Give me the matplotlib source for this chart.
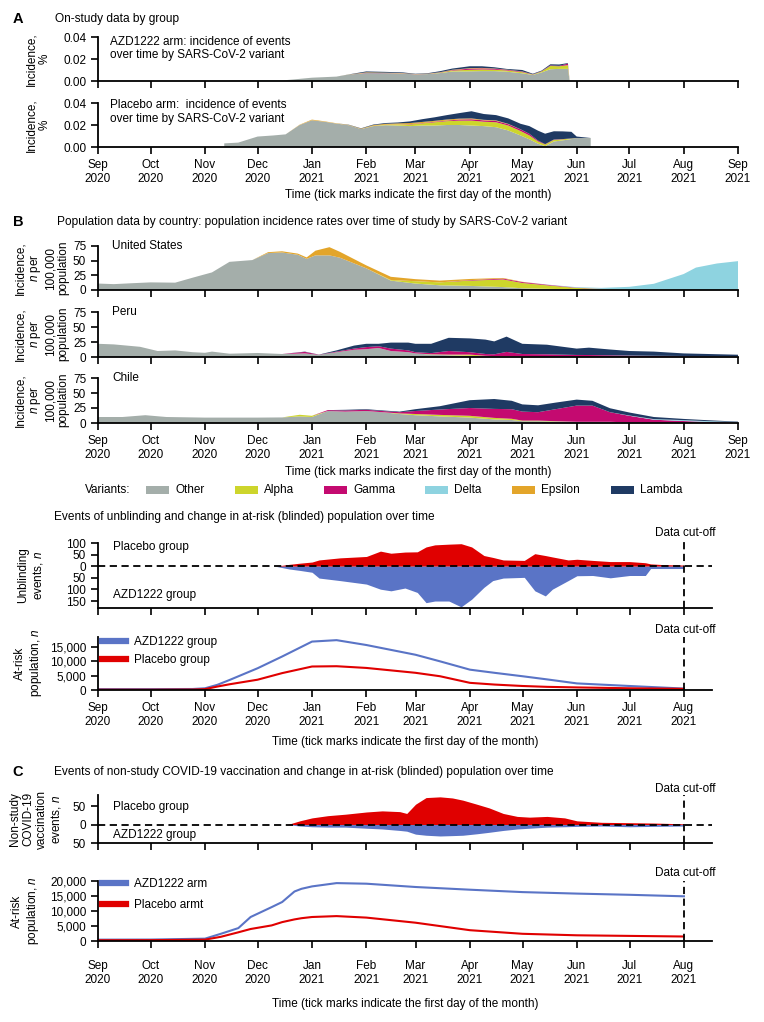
import matplotlib
matplotlib.use("Agg")
import matplotlib.pyplot as plt
import matplotlib.dates as mdates
from matplotlib.patches import Rectangle
from matplotlib.lines import Line2D
from matplotlib.ticker import FuncFormatter
import pandas as pd

plt.rcParams['font.family'] = ['Liberation Sans', 'DejaVu Sans']
plt.rcParams['mathtext.fontset'] = 'custom'
plt.rcParams['mathtext.it'] = 'Liberation Sans:italic'
plt.rcParams['mathtext.rm'] = 'Liberation Sans'

# ---------------- data ----------------
variant_names = ["Other", "Alpha", "Gamma", "Delta", "Epsilon", "Lambda"]
variant_colors = ["#a4aeaa", "#cdd52c", "#c40a70", "#8ed3e0", "#e3a52a", "#1f3a63"]

# A: on-study incidence (%), AZD1222 arm
azd_dates = ["2020-11-15", "2020-12-01", "2020-12-15", "2020-12-22", "2021-01-01", "2021-01-15",
             "2021-01-22", "2021-02-01", "2021-02-12", "2021-02-22", "2021-03-01", "2021-03-08",
             "2021-03-15", "2021-03-22", "2021-04-01", "2021-04-08", "2021-04-15", "2021-04-22",
             "2021-05-01", "2021-05-07", "2021-05-12", "2021-05-17", "2021-05-22", "2021-05-27",
             "2021-05-28"]
azd_other = [0.0003, 0.0005, 0.0005, 0.0015, 0.003, 0.004, 0.0058, 0.0072, 0.0071, 0.0068, 0.006,
             0.0063, 0.0072, 0.0086, 0.0088, 0.009, 0.009, 0.0085, 0.007, 0.0055, 0.0078, 0.0107,
             0.011, 0.011, 0]
azd_alpha = [0, 0, 0, 0, 0, 0, 0, 0, 0, 0, 0, 0.0001, 0.0004, 0.0009, 0.0014, 0.0015, 0.0013,
             0.0011, 0.001, 0.0004, 0.0009, 0.003, 0.0024, 0.0034, 0]
azd_gamma = [0, 0, 0, 0, 0, 0, 0, 0.0002, 0.0001, 0.0001, 0.0001, 0.0001, 0.0002, 0.0004, 0.001,
             0.001, 0.0008, 0.0006, 0.0005, 0.0002, 0.0003, 0.0005, 0.0004, 0.0014, 0]
azd_eps = [0, 0, 0, 0, 0, 0, 0.0001, 0.0005, 0.0004, 0.0003, 0.0002, 0.0002, 0.0002, 0.0003,
           0.0005, 0.0004, 0.0003, 0.0002, 0.0002, 0, 0, 0, 0, 0, 0]
azd_lambda = [0, 0, 0, 0, 0, 0, 0.0001, 0.0008, 0.0007, 0.0006, 0.0003, 0.0004, 0.0009, 0.0011,
              0.0017, 0.0015, 0.0011, 0.0006, 0.0013, 0.0005, 0.0005, 0.001, 0.0012, 0.0005, 0]

# A: placebo arm
pbo_dates = ["2020-11-12", "2020-11-12", "2020-11-20", "2020-12-01", "2020-12-10", "2020-12-17",
             "2020-12-25", "2021-01-01", "2021-01-08", "2021-01-15", "2021-01-22", "2021-01-29",
             "2021-02-05", "2021-02-12", "2021-02-19", "2021-02-26", "2021-03-05", "2021-03-12",
             "2021-03-19", "2021-03-26", "2021-04-02", "2021-04-09", "2021-04-16", "2021-04-23",
             "2021-04-30", "2021-05-05", "2021-05-10", "2021-05-14", "2021-05-19", "2021-05-24",
             "2021-05-29", "2021-06-01", "2021-06-09", "2021-06-09"]
pbo_other = [0, 0.0033, 0.004, 0.0095, 0.0105, 0.0115, 0.020, 0.0243, 0.023, 0.0213, 0.0198,
             0.0163, 0.019, 0.0198, 0.0195, 0.019, 0.0195, 0.0195, 0.020, 0.020, 0.0195, 0.019,
             0.018, 0.015, 0.0105, 0.007, 0.003, 0.0008, 0.005, 0.006, 0.0072, 0.0082, 0.0082, 0]
pbo_alpha = [0, 0, 0, 0, 0, 0, 0, 0, 0, 0, 0, 0, 0.0002, 0.0005, 0.001, 0.0015, 0.002, 0.003,
             0.0035, 0.004, 0.0045, 0.004, 0.0045, 0.0045, 0.004, 0.0035, 0.002, 0.0015, 0.0015,
             0.001, 0.0005, 0, 0, 0]
pbo_gamma = [0, 0, 0, 0, 0, 0, 0, 0, 0, 0, 0, 0, 0, 0, 0, 0.0003, 0.0003, 0.0005, 0.0005, 0.001,
             0.0012, 0.0012, 0.0012, 0.0012, 0.0015, 0.0015, 0.0008, 0.0003, 0.0003, 0.0002, 0.0001,
             0, 0, 0]
pbo_eps = [0, 0, 0, 0, 0, 0, 0.0003, 0.0006, 0.0004, 0.0003, 0.0003, 0.0004, 0.0007, 0.0008, 0.001,
           0.001, 0.001, 0.0008, 0.001, 0.0008, 0.0008, 0.0005, 0.0005, 0.0003, 0.0001, 0, 0, 0, 0,
           0, 0, 0, 0, 0]
pbo_lambda = [0, 0, 0, 0, 0, 0, 0, 0, 0, 0, 0.0002, 0.0003, 0.0005, 0.0007, 0.0008, 0.0015, 0.0025,
              0.0032, 0.004, 0.005, 0.0065, 0.0053, 0.0048, 0.005, 0.005, 0.007, 0.009, 0.0095,
              0.0075, 0.007, 0.006, 0.0013, 0, 0]

# B: population incidence, n per 100,000
us_dates = ["2020-09-01", "2020-09-10", "2020-09-20", "2020-10-01", "2020-10-15", "2020-10-25",
            "2020-11-05", "2020-11-15", "2020-11-28", "2020-12-07", "2020-12-15", "2020-12-24",
            "2020-12-29", "2021-01-03", "2021-01-11", "2021-01-17", "2021-02-01", "2021-02-15",
            "2021-03-01", "2021-03-15", "2021-04-01", "2021-04-20", "2021-05-01", "2021-05-15",
            "2021-06-01", "2021-06-15", "2021-07-01", "2021-07-15", "2021-08-01", "2021-08-08",
            "2021-08-20", "2021-09-01"]
us_other = [11, 10, 11.5, 13, 12.5, 21, 30, 48, 51, 63, 64, 60, 53, 59, 59, 55, 37, 16, 11, 8, 7,
            5, 3, 2, 1, 0.8, 0.5, 0.3, 0.2, 0.2, 0.2, 0.2]
us_alpha = [0, 0, 0, 0, 0, 0, 0, 0, 0, 0, 0, 0, 0, 0, 0, 0, 0, 1, 4, 5, 9, 13, 9, 6, 2.5, 1, 0.3,
            0.2, 0, 0, 0, 0]
us_gamma = [0, 0, 0, 0, 0, 0, 0, 0, 0, 0, 0, 0, 0, 0, 0, 0, 0, 0, 0, 0, 0.8, 1.5, 1.5, 1, 0.5,
            0.3, 0.1, 0.1, 0, 0, 0, 0]
us_delta = [0, 0, 0, 0, 0, 0, 0, 0, 0, 0, 0, 0, 0, 0, 0, 0, 0, 0, 0, 0, 0, 0, 0, 0.3, 0.8, 1.5,
            4.5, 10, 27, 38, 45, 49]
us_eps = [0, 0, 0, 0, 0, 0, 0, 0, 0, 1.5, 2, 2, 2.5, 8, 14, 10, 5, 5.5, 3.5, 3, 2, 1, 0.5, 0, 0,
          0, 0, 0, 0, 0, 0, 0]

pe_dates = ["2020-09-01", "2020-09-10", "2020-09-25", "2020-10-05", "2020-10-15", "2020-10-25",
            "2020-11-01", "2020-11-05", "2020-11-15", "2020-12-01", "2020-12-15", "2020-12-28",
            "2021-01-05", "2021-01-15", "2021-01-25", "2021-02-01", "2021-02-08", "2021-02-15",
            "2021-02-25", "2021-03-01", "2021-03-10", "2021-03-20", "2021-04-01", "2021-04-10",
            "2021-04-15", "2021-04-22", "2021-05-01", "2021-05-15", "2021-06-01", "2021-06-08",
            "2021-06-20", "2021-07-01", "2021-07-15", "2021-08-01", "2021-08-15", "2021-09-01"]
pe_other = [22, 21, 17, 10, 11, 8, 7, 9, 5.5, 6.7, 5, 6, 3.5, 8, 12, 13, 15, 10, 8, 6, 4, 3, 2, 1,
            1, 1, 0.8, 0.5, 0.4, 0.3, 0.3, 0.2, 0.2, 0.2, 0.1, 0.1]
pe_alpha = [0, 0, 0, 0, 0, 0, 0, 0, 0, 0, 0, 0, 0, 0, 0, 0, 0, 0, 0, 0, 0.5, 1, 2, 1, 0.5, 0.5,
            0.2, 0, 0, 0, 0, 0, 0, 0, 0, 0]
pe_gamma = [0, 0, 0, 0, 0, 0, 0, 0, 0, 0, 0, 2.5, 0.3, 1, 2, 3.5, 3, 4, 3, 2, 2, 6, 4, 3, 3, 7, 4,
            4, 3, 3, 2.5, 2, 1.5, 1, 0.7, 0.4]
pe_delta = [0, 0, 0, 0, 0, 0, 0, 0, 0, 0, 0, 0, 0, 0, 0, 0, 0, 0, 0, 0, 0, 0, 0, 0, 0, 0, 0, 0, 0,
            0, 0, 0.2, 0.3, 0.5, 0.7, 0.8]
pe_lambda = [0, 0, 0, 0, 0, 0, 0, 0, 0, 0, 0, 0.5, 0.2, 2, 5, 5.5, 4, 10, 13, 14, 15.5, 22, 23, 24,
             21.5, 25.5, 17, 16, 10.6, 12.3, 9.7, 7.6, 7, 4.3, 3.5, 2.5]

cl_dates = ["2020-09-01", "2020-09-15", "2020-09-28", "2020-10-10", "2020-11-01", "2020-12-01",
            "2020-12-15", "2020-12-25", "2021-01-01", "2021-01-10", "2021-01-20", "2021-02-01",
            "2021-02-10", "2021-02-20", "2021-03-01", "2021-03-15", "2021-04-01", "2021-04-15",
            "2021-04-25", "2021-05-01", "2021-05-10", "2021-05-20", "2021-06-01", "2021-06-10",
            "2021-06-20", "2021-07-01", "2021-07-15", "2021-08-01", "2021-08-15", "2021-09-01"]
cl_other = [10, 10, 13, 10, 9, 9, 9.3, 11, 10, 20, 19, 20, 18, 15, 13, 11, 9, 6, 5, 3, 3, 2.5, 2,
            2, 2, 1, 0.5, 0.3, 0.2, 0.1]
cl_alpha = [0, 0, 0, 0, 0, 0, 0, 2.7, 2, 0, 0, 0, 0, 1, 2, 2.5, 3, 2.5, 2, 1, 1, 0.5, 0, 0, 0, 0,
            0, 0, 0, 0]
cl_gamma = [0, 0, 0, 0, 0, 0, 0, 0, 0, 1.5, 2, 2, 2, 2, 5, 9, 13, 15, 16, 15, 14, 20, 27, 27, 16,
            11, 5, 3, 1.5, 0.5]
cl_delta = [0, 0, 0, 0, 0, 0, 0, 0, 0, 0, 0, 0, 0, 0, 0, 0, 0, 0, 0, 0, 0, 0, 0, 0, 0, 0.5, 1,
            1.5, 1.4, 1]
cl_lambda = [0, 0, 0, 0, 0, 0, 0, 0, 0, 0, 1, 1, 1, 1, 3, 5.5, 13, 16.5, 14, 12, 11.5, 11, 10, 8,
             6.6, 5, 3.5, 2, 1.5, 0.7]

# unblinding events
ub_dates = ["2020-12-11", "2020-12-19", "2020-12-25", "2021-01-01", "2021-01-05", "2021-01-17",
            "2021-02-01", "2021-02-09", "2021-02-15", "2021-02-23", "2021-03-02", "2021-03-07",
            "2021-03-12", "2021-03-20", "2021-03-27", "2021-04-02", "2021-04-09", "2021-04-14",
            "2021-04-20", "2021-05-02", "2021-05-08", "2021-05-14", "2021-05-18", "2021-05-27",
            "2021-06-01", "2021-06-10", "2021-06-20", "2021-07-01", "2021-07-10", "2021-07-13",
            "2021-07-20", "2021-08-01"]
ub_pbo = [0, 8, 13, 18, 27, 36, 42, 65, 56, 61, 62, 83, 92, 95, 97, 83, 46, 38, 27, 25, 54, 46,
          40, 27, 30, 25, 20, 20, 15, 10, 7, 5]
ub_azd = [0, 12, 18, 26, 51, 62, 77, 99, 106, 94, 113, 157, 150, 150, 175, 142, 91, 62, 51, 48,
          106, 128, 99, 62, 41, 40, 50, 40, 40, 10, 10, 10]

# at-risk (blinded) population, unblinding
ar_dates = ["2020-09-01", "2020-10-01", "2020-10-25", "2020-11-01", "2020-11-08", "2020-11-15",
            "2020-12-01", "2020-12-15", "2021-01-01", "2021-01-15", "2021-02-01", "2021-03-01",
            "2021-03-15", "2021-04-01", "2021-04-15", "2021-05-01", "2021-05-15", "2021-06-01",
            "2021-07-01", "2021-08-01"]
ar_azd = [300, 300, 350, 600, 1800, 3500, 7600, 11700, 16900, 17400, 15700, 12300, 10000, 7100,
          6000, 4800, 3700, 2300, 1400, 500]
ar_pbo = [100, 100, 150, 300, 1200, 2000, 3600, 5900, 8200, 8300, 7700, 6000, 4800, 2500, 1900,
          1400, 1100, 900, 600, 400]

# C: non-study vaccination events
vx_dates = ["2020-12-18", "2020-12-25", "2021-01-01", "2021-01-10", "2021-01-20", "2021-02-01",
            "2021-02-10", "2021-02-20", "2021-02-24", "2021-03-01", "2021-03-07", "2021-03-15",
            "2021-03-22", "2021-03-28", "2021-04-05", "2021-04-12", "2021-04-20", "2021-04-28",
            "2021-05-05", "2021-05-15", "2021-05-25", "2021-06-01", "2021-06-15", "2021-07-01",
            "2021-07-15", "2021-08-01"]
vx_pbo = [0, 10, 18, 24, 28, 34, 37, 35, 30, 55, 73, 75, 72, 66, 55, 45, 30, 22, 20, 22, 18, 10,
          6, 5, 4, 2]
vx_azd = [0, 4, 6, 7, 7, 10, 12, 16, 18, 26, 29, 31, 30, 29, 25, 21, 16, 12, 10, 7, 6, 5, 4, 6,
          5, 4]

# C: at-risk population
arc_dates = ["2020-09-01", "2020-10-01", "2020-11-01", "2020-11-10", "2020-11-20", "2020-11-27",
             "2020-12-09", "2020-12-15", "2020-12-22", "2020-12-26", "2021-01-01", "2021-01-15",
             "2021-02-01", "2021-03-01", "2021-04-01", "2021-05-01", "2021-06-01", "2021-07-01",
             "2021-08-01"]
arc_azd = [450, 480, 780, 2400, 4300, 8000, 11300, 13000, 16500, 17400, 18200, 19300, 19100, 18000,
           17100, 16300, 15800, 15400, 14900]
arc_pbo = [250, 280, 450, 1400, 2900, 4000, 5200, 6300, 7200, 7600, 8000, 8300, 7800, 6100, 3600,
           2400, 1900, 1700, 1500]

RED = "#e00000"
BLUE = "#5a74c6"
cutoff = pd.Timestamp("2021-08-01")

# ---------------- layout helpers ----------------
W, H = 764, 1022
fig = plt.figure(figsize=(W / 100, H / 100), dpi=100)
TITLE_FS = 8.6


def add_ax(x0, top, x1, bot):
    return fig.add_axes([x0 / W, 1 - bot / H, (x1 - x0) / W, (bot - top) / H])


def put(x, y, s, **kw):
    kw.setdefault('va', 'center')
    kw.setdefault('fontsize', 8.5)
    fig.text(x / W, 1 - y / H, s, **kw)


def style(ax, start, end, labels=False, pad=3.5):
    for s in ['top', 'right']:
        ax.spines[s].set_visible(False)
    for s in ['left', 'bottom']:
        ax.spines[s].set_linewidth(1.3)
    ax.tick_params(direction='out', length=5, width=1.2, labelsize=8.5)
    ax.tick_params(axis='x', labelbottom=labels, pad=pad)
    ax.set_xlim(pd.Timestamp(start), pd.Timestamp(end))
    ax.xaxis.set_major_locator(mdates.MonthLocator())
    ax.xaxis.set_major_formatter(mdates.DateFormatter('%b\n%Y'))


def ylab(x, y, s):
    put(x, y, s, rotation=90, ha='center', linespacing=1.15)


def stack(ax, dates, series, names):
    cols = [variant_colors[variant_names.index(n)] for n in names]
    ax.stackplot(pd.to_datetime(dates), *series, colors=cols, linewidth=0)


T_XLAB = "Time (tick marks indicate the first day of the month)"

# ---------------- panel A ----------------
put(18, 19, "A", fontweight='bold', fontsize=10.5, ha='center')
put(55, 19, "On-study data by group", fontsize=TITLE_FS)

pct_fmt = FuncFormatter(lambda v, p: f"{v:.2f}")
a1 = add_ax(98, 37, 738, 81)
stack(a1, azd_dates, [azd_other, azd_alpha, azd_gamma, azd_eps, azd_lambda],
      ["Other", "Alpha", "Gamma", "Epsilon", "Lambda"])
a2 = add_ax(98, 103, 738, 147)
stack(a2, pbo_dates, [pbo_other, pbo_alpha, pbo_gamma, pbo_eps, pbo_lambda],
      ["Other", "Alpha", "Gamma", "Epsilon", "Lambda"])
for ax, lab in [(a1, False), (a2, True)]:
    style(ax, "2020-09-01", "2021-09-01", labels=lab)
    ax.set_ylim(0, 0.04)
    ax.set_yticks([0, 0.02, 0.04])
    ax.yaxis.set_major_formatter(pct_fmt)
put(110, 42, "AZD1222 arm: incidence of events", ha='left')
put(110, 55, "over time by SARS-CoV-2 variant", ha='left')
put(110, 105, "Placebo arm:  incidence of events", ha='left')
put(110, 119, "over time by SARS-CoV-2 variant", ha='left')
ylab(38, 59, "Incidence,\n%")
ylab(38, 125, "Incidence,\n%")
put(418, 195, T_XLAB, ha='center')

# ---------------- panel B ----------------
put(18, 222, "B", fontweight='bold', fontsize=10.5, ha='center')
put(57, 222, "Population data by country: population incidence rates over time of study by "
             "SARS-CoV-2 variant", fontsize=TITLE_FS)

b_us = add_ax(98, 246, 738, 290)
stack(b_us, us_dates, [us_other, us_alpha, us_gamma, us_delta, us_eps],
      ["Other", "Alpha", "Gamma", "Delta", "Epsilon"])
b_pe = add_ax(98, 312, 738, 357)
stack(b_pe, pe_dates, [pe_other, pe_alpha, pe_gamma, pe_delta, pe_lambda],
      ["Other", "Alpha", "Gamma", "Delta", "Lambda"])
b_cl = add_ax(98, 378, 738, 423)
stack(b_cl, cl_dates, [cl_other, cl_alpha, cl_gamma, cl_delta, cl_lambda],
      ["Other", "Alpha", "Gamma", "Delta", "Lambda"])
for ax, name, top in [(b_us, "United States", 246), (b_pe, "Peru", 312), (b_cl, "Chile", 378)]:
    style(ax, "2020-09-01", "2021-09-01", labels=(ax is b_cl))
    ax.set_ylim(0, 75)
    ax.set_yticks([0, 25, 50, 75])
    put(112, top, name, ha='left')
    ylab(42, top + 22, "Incidence,\n$n$ per\n100,000\npopulation")
put(418, 472, T_XLAB, ha='center')

# variant legend
put(85, 490, "Variants:", ha='left')
leg_x = [146, 235, 324, 425, 512, 611]
for x, name, col in zip(leg_x, variant_names, variant_colors):
    fig.add_artist(Rectangle((x / W, 1 - 494 / H), 23 / W, 8 / H, facecolor=col,
                             edgecolor='none', transform=fig.transFigure))
    put(x + 29, 490, name, ha='left')

# ---------------- unblinding ----------------
put(54, 517, "Events of unblinding and change in at-risk (blinded) population over time",
    fontsize=TITLE_FS)

u1 = add_ax(98, 543, 712, 608)
ub_t = pd.to_datetime(ub_dates)
u1.fill_between(ub_t, 0, ub_pbo, color=RED, linewidth=0)
u1.fill_between(ub_t, 0, [-v for v in ub_azd], color=BLUE, linewidth=0)
style(u1, "2020-09-01", "2021-08-17")
u1.set_ylim(-180, 100)
u1.set_yticks([-150, -100, -50, 0, 50, 100])
u1.yaxis.set_major_formatter(FuncFormatter(lambda v, p: f"{abs(v):.0f}"))
u1.axhline(0, color='black', lw=1.3, ls=(0, (4, 2.5)))
u1.axvline(cutoff, ymin=0, ymax=1.05, color='black', lw=1.3, ls=(0, (4, 2.5)), clip_on=False)
put(113, 547, "Placebo group", ha='left')
put(113, 595, "AZD1222 group", ha='left')
put(685, 533, "Data cut-off", ha='center')
ylab(31, 575, "Unblinding\nevents, $n$")

u2 = add_ax(98, 637, 712, 690)
ar_t = pd.to_datetime(ar_dates)
u2.plot(ar_t, ar_azd, color=BLUE, lw=1.5)
u2.plot(ar_t, ar_pbo, color=RED, lw=1.5)
style(u2, "2020-09-01", "2021-08-17", labels=True)
u2.set_ylim(0, 18500)
u2.set_yticks([0, 5000, 10000, 15000])
u2.yaxis.set_major_formatter(FuncFormatter(lambda v, p: f"{v:,.0f}"))
u2.axvline(cutoff, ymin=0, ymax=1.0, color='black', lw=1.3, ls=(0, (4, 2.5)), clip_on=False)
u2.legend([Line2D([], [], color=BLUE, lw=4.5), Line2D([], [], color=RED, lw=4.5)],
          ["AZD1222 group", "Placebo group"], loc='upper left',
          bbox_to_anchor=(102 / W, 1 - 636 / H), bbox_transform=fig.transFigure,
          frameon=False, fontsize=8.5, handlelength=2.0, handletextpad=0.7,
          labelspacing=0.55, borderpad=0, borderaxespad=0)
put(685, 630, "Data cut-off", ha='center')
ylab(29, 663, "At-risk\npopulation, $n$")
put(405, 742, T_XLAB, ha='center')

# ---------------- panel C ----------------
put(18, 772, "C", fontweight='bold', fontsize=10.5, ha='center')
put(54, 772, "Events of non-study COVID-19 vaccination and change in at-risk (blinded) "
             "population over time", fontsize=TITLE_FS)

c1 = add_ax(98, 795, 712, 843)
vx_t = pd.to_datetime(vx_dates)
c1.fill_between(vx_t, 0, vx_pbo, color=RED, linewidth=0)
c1.fill_between(vx_t, 0, [-v for v in vx_azd], color=BLUE, linewidth=0)
style(c1, "2020-09-01", "2021-08-17")
c1.set_ylim(-50, 80)
c1.set_yticks([-50, 0, 50])
c1.yaxis.set_major_formatter(FuncFormatter(lambda v, p: f"{abs(v):.0f}"))
c1.axhline(0, color='black', lw=1.3, ls=(0, (4, 2.5)))
c1.axvline(cutoff, ymin=0, ymax=1.0, color='black', lw=1.3, ls=(0, (4, 2.5)), clip_on=False)
put(113, 807, "Placebo group", ha='left')
put(113, 835, "AZD1222 group", ha='left')
put(685, 789, "Data cut-off", ha='center')
ylab(36, 819, "Non-study\nCOVID-19\nvaccination\nevents, $n$")

c2 = add_ax(98, 881, 712, 941)
arc_t = pd.to_datetime(arc_dates)
c2.plot(arc_t, arc_azd, color=BLUE, lw=1.5)
c2.plot(arc_t, arc_pbo, color=RED, lw=1.5)
style(c2, "2020-09-01", "2021-08-17", labels=True, pad=9)
c2.set_ylim(0, 20000)
c2.set_yticks([0, 5000, 10000, 15000, 20000])
c2.yaxis.set_major_formatter(FuncFormatter(lambda v, p: f"{v:,.0f}"))
c2.axvline(cutoff, ymin=0, ymax=1.0, color='black', lw=1.3, ls=(0, (4, 2.5)), clip_on=False)
c2.legend([Line2D([], [], color=BLUE, lw=4.5), Line2D([], [], color=RED, lw=4.5)],
          ["AZD1222 arm", "Placebo armt"], loc='upper left',
          bbox_to_anchor=(102 / W, 1 - 878 / H), bbox_transform=fig.transFigure,
          frameon=False, fontsize=8.5, handlelength=2.0, handletextpad=0.7,
          labelspacing=0.8, borderpad=0, borderaxespad=0)
put(685, 873, "Data cut-off", ha='center')
ylab(26, 911, "At-risk\npopulation, $n$")
put(405, 1004, T_XLAB, ha='center')

fig.savefig("out.png", dpi=100)
